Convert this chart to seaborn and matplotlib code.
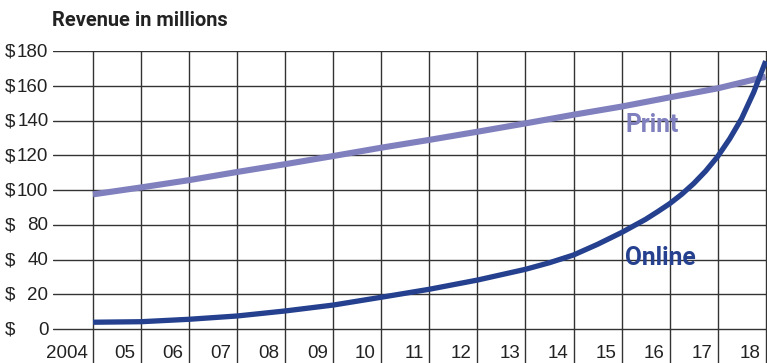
import numpy as np
import pandas as pd
import matplotlib
matplotlib.use("Agg")
import matplotlib.pyplot as plt
import matplotlib.transforms as mtransforms
from matplotlib import font_manager
import seaborn as sns

# ---- data ----
years = list(range(2004, 2019))
year_labels = ["2004", "05", "06", "07", "08", "09", "10", "11", "12",
               "13", "14", "15", "16", "17", "18"]
tick_values = [0, 20, 40, 80, 100, 120, 140, 160, 180]
tick_labels = ["0", "20", "40", "80", "100", "120", "140", "160", "180"]

print_years = list(range(2004, 2019))
print_values = [97.6, 101.6, 105.8, 110.5, 115.0, 119.7, 124.5, 129.0,
                133.7, 138.5, 143.5, 148.2, 153.5, 158.7, 165.4]

online_years = [2004, 2005, 2006, 2007, 2008, 2009, 2010, 2011, 2012, 2013,
                2013.5, 2014, 2014.5, 2015, 2015.5, 2015.75, 2016, 2016.25,
                2016.5, 2016.75, 2017, 2017.25, 2017.5, 2017.75, 2018]
online_values = [3.9, 4.2, 5.6, 7.5, 10.4, 13.8, 18.3, 22.9, 28.2, 34.4,
                 38.2, 45.3, 57.6, 71.2, 83.2, 87.6, 92.2, 97.6,
                 103.8, 111.0, 119.4, 129.6, 141.4, 156.4, 174.4]

print_color = "#8080bf"
online_color = "#24408e"

# ---- fonts ----
names = {f.name for f in font_manager.fontManager.ttflist}
bold_family = "Roboto" if "Roboto" in names else "Liberation Sans"
regular = "Liberation Sans"

sns.set_theme(style="white")
plt.rcParams["font.family"] = [regular, "DejaVu Sans"]

fig = plt.figure(figsize=(7.67, 3.63), dpi=100)
W, H = 767, 363
left_px, top_px = 53.3, 51.4
ax = fig.add_axes([left_px / W, 0, 1 - left_px / W, (H - top_px) / H])

# piecewise y scale following the printed labels
idx = np.arange(len(tick_values), dtype=float)
tv = np.array(tick_values, dtype=float)


def fwd(v):
    v = np.asarray(v, dtype=float)
    p = np.interp(v, tv, idx)
    p = np.where(v < tv[0], (v - tv[0]) / 20.0, p)
    p = np.where(v > tv[-1], idx[-1] + (v - tv[-1]) / 20.0, p)
    return p


def inv(p):
    p = np.asarray(p, dtype=float)
    v = np.interp(p, idx, tv)
    v = np.where(p < 0, tv[0] + p * 20.0, v)
    v = np.where(p > idx[-1], tv[-1] + (p - idx[-1]) * 20.0, v)
    return v


ax.set_yscale("function", functions=(fwd, inv))

df_print = pd.DataFrame({"year": print_years, "revenue": print_values})
df_online = pd.DataFrame({"year": online_years, "revenue": online_values})

sns.lineplot(data=df_print, x="year", y="revenue", color=print_color,
             linewidth=4.4, ax=ax, solid_capstyle="butt", zorder=3)
sns.lineplot(data=df_online, x="year", y="revenue", color=online_color,
             linewidth=3.8, ax=ax, solid_capstyle="butt", zorder=4)

px_per_year = 48.05
x_left = 2004 - (93.0 - left_px) / px_per_year
x_right = 2018 + (W - 765.7) / px_per_year
ax.set_xlim(x_left, x_right)
ax.set_ylim(inv(-0.98), 180)

ax.set_xticks(years)
ax.set_yticks(tick_values)
ax.tick_params(left=False, bottom=False, labelleft=False, labelbottom=False)
ax.grid(True, color="#333333", linewidth=1.0)
for s in ax.spines.values():
    s.set_visible(False)
ax.set_xlabel("")
ax.set_ylabel("")

text_color = "#222222"
# y labels
ytr = mtransforms.offset_copy(ax.get_yaxis_transform(), fig=fig, y=-5.6, units="dots")
for v, lab in zip(tick_values, tick_labels):
    ax.text((5 - left_px) / (W - left_px), v, "$", transform=ytr, ha="left",
            va="baseline", fontsize=13.5, color=text_color, clip_on=False)
    ax.text((48.5 - left_px) / (W - left_px), v, lab, transform=ytr, ha="right",
            va="baseline", fontsize=13.5, color=text_color, clip_on=False)

# x labels
xlab_y = inv((329 - 358.5) / 34.7)
for yr, lab in zip(years, year_labels):
    ax.text(yr - 5.5 / px_per_year, xlab_y, lab, ha="right", va="baseline",
            fontsize=13.5, color=text_color, clip_on=False)

# series labels
ax.text(2004 + (625 - 93) / px_per_year, inv((329 - 132) / 34.7), "Print",
        ha="left", va="baseline", fontsize=17.7, fontweight="bold",
        color=print_color, family=[bold_family, "DejaVu Sans"])
ax.text(2004 + (625 - 93) / px_per_year, inv((329 - 265.5) / 34.7), "Online",
        ha="left", va="baseline", fontsize=17.7, fontweight="bold",
        color=online_color, family=[bold_family, "DejaVu Sans"])

fig.text(52 / W, 1 - 25.7 / H, "Revenue in millions", ha="left", va="baseline",
         fontsize=14.4, fontweight="bold", color=text_color,
         family=[bold_family, "DejaVu Sans"])

fig.savefig("out.png", dpi=100, facecolor="white")
